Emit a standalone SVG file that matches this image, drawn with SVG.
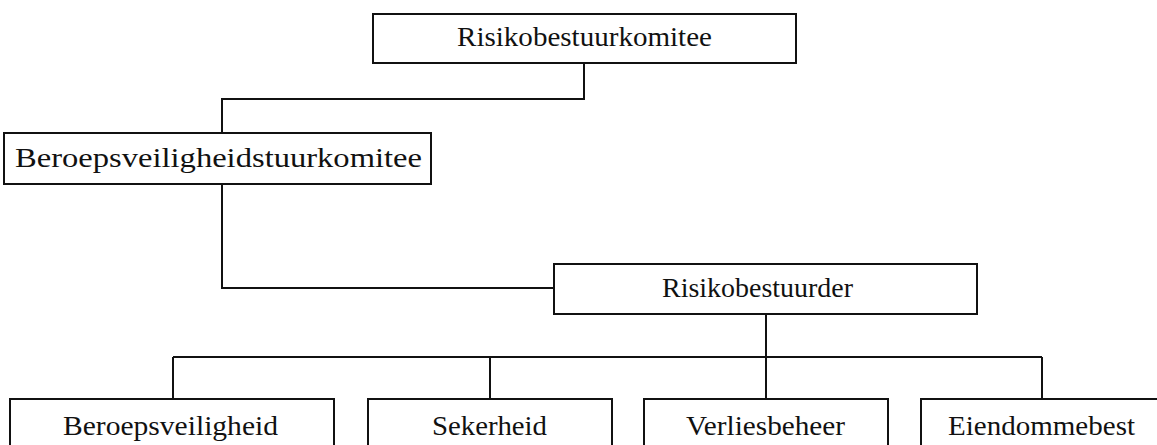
<svg xmlns="http://www.w3.org/2000/svg" width="1157" height="445" viewBox="0 0 1157 445">
  <style>
    .box { fill: #ffffff; stroke: #111111; stroke-width: 2; }
    .conn { fill: none; stroke: #111111; stroke-width: 2; }
    .lbl { font-family: "Liberation Serif", "Times New Roman", serif; font-size: 28px; fill: #111111; }
  </style>
  <rect x="0" y="0" width="1157" height="445" fill="#ffffff"/>
  <g id="connectors">
    <polyline class="conn" points="584,63 584,99 222,99 222,133"/>
    <polyline class="conn" points="222,184 222,288 554,288"/>
    <line class="conn" x1="766" y1="314" x2="766" y2="399"/>
    <line class="conn" x1="173" y1="357" x2="1042" y2="357"/>
    <line class="conn" x1="173" y1="357" x2="173" y2="399"/>
    <line class="conn" x1="490" y1="357" x2="490" y2="399"/>
    <line class="conn" x1="1042" y1="357" x2="1042" y2="399"/>
  </g>
  <g id="node-risikobestuurkomitee">
    <rect class="box" x="373" y="14" width="423" height="49"/>
    <text class="lbl" x="457" y="46" textLength="255" lengthAdjust="spacingAndGlyphs">Risikobestuurkomitee</text>
  </g>
  <g id="node-beroepsveiligheidstuurkomitee">
    <rect class="box" x="4" y="133" width="427" height="51"/>
    <text class="lbl" x="15" y="167" textLength="407" lengthAdjust="spacingAndGlyphs">Beroepsveiligheidstuurkomitee</text>
  </g>
  <g id="node-risikobestuurder">
    <rect class="box" x="554" y="264" width="423" height="50"/>
    <text class="lbl" x="662" y="297" textLength="191" lengthAdjust="spacingAndGlyphs">Risikobestuurder</text>
  </g>
  <g id="node-beroepsveiligheid">
    <rect class="box" x="10" y="399" width="324" height="70"/>
    <text class="lbl" x="63" y="435" textLength="215" lengthAdjust="spacingAndGlyphs">Beroepsveiligheid</text>
  </g>
  <g id="node-sekerheid">
    <rect class="box" x="368" y="399" width="244" height="70"/>
    <text class="lbl" x="432" y="435" textLength="115" lengthAdjust="spacingAndGlyphs">Sekerheid</text>
  </g>
  <g id="node-verliesbeheer">
    <rect class="box" x="644" y="399" width="244" height="70"/>
    <text class="lbl" x="686" y="435" textLength="159" lengthAdjust="spacingAndGlyphs">Verliesbeheer</text>
  </g>
  <g id="node-eiendommebest">
    <rect class="box" x="921" y="399" width="250" height="70"/>
    <text class="lbl" x="948" y="435" textLength="187" lengthAdjust="spacingAndGlyphs">Eiendommebest</text>
  </g>
</svg>
